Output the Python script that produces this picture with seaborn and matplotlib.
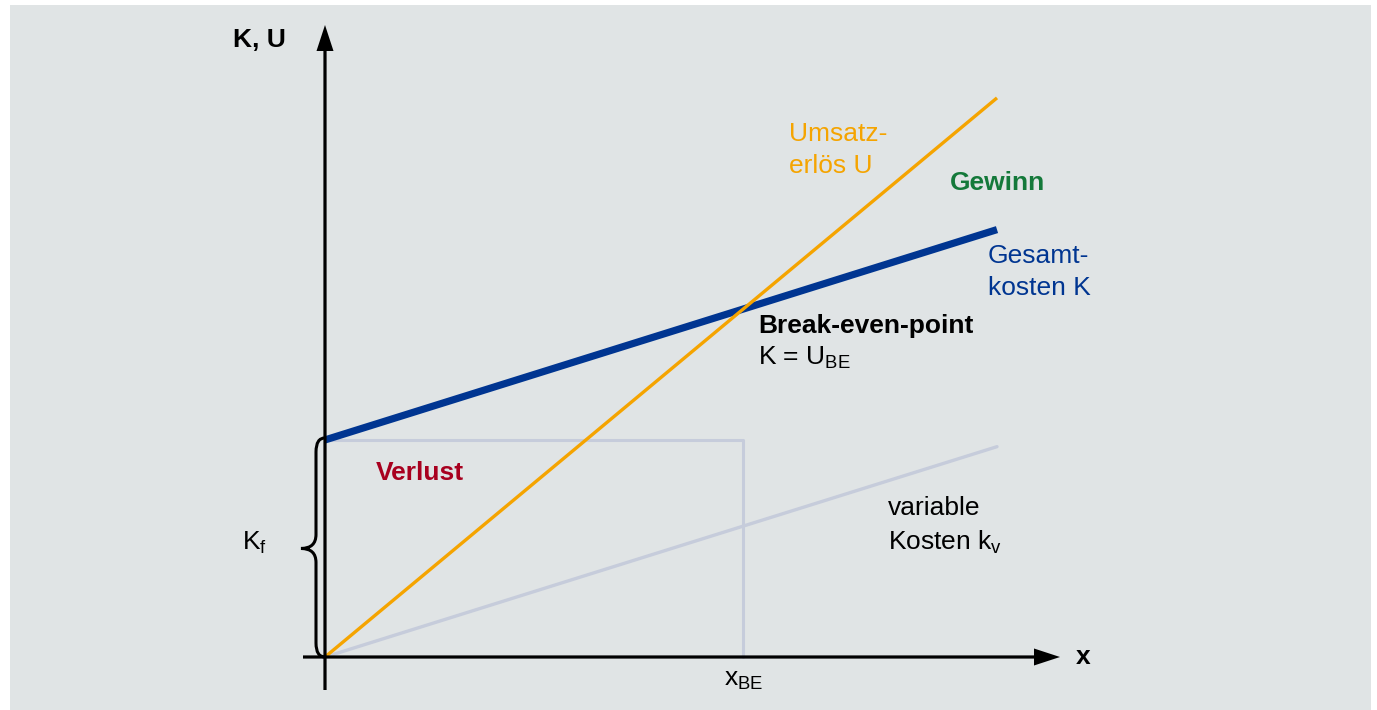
import numpy as np
import pandas as pd
import matplotlib
matplotlib.use("Agg")
import matplotlib.pyplot as plt
from matplotlib.path import Path
from matplotlib.patches import PathPatch, Rectangle
import seaborn as sns

# Break-even model (arbitrary units)
x_range = [0.0, 10.0]          # output quantity x
fixed_costs = 3.23             # K_f
unit_var_cost = 0.313          # k_v per unit
unit_price = 0.832             # revenue per unit

revenue = [unit_price * x for x in x_range]                    # U
variable_costs = [unit_var_cost * x for x in x_range]          # k_v * x
total_costs = [fixed_costs + unit_var_cost * x for x in x_range]  # K

x_be = fixed_costs / (unit_price - unit_var_cost)
y_be = unit_price * x_be

sns.set_theme(style="white")
plt.rcParams["font.family"] = ["Liberation Sans", "DejaVu Sans"]
plt.rcParams["mathtext.fontset"] = "custom"
plt.rcParams["mathtext.rm"] = "Liberation Sans"
plt.rcParams["text.color"] = "black"

W, H, DPI = 1377, 710, 100
fig = plt.figure(figsize=(W / DPI, H / DPI), dpi=DPI, facecolor="white")

# grey panel behind the axes
fig.patches.append(Rectangle((10 / W, 0), 1361 / W, 705 / H, transform=fig.transFigure,
                             facecolor="#e0e4e5", edgecolor="none", zorder=-10))

ax = fig.add_axes([0, 0, 1, 1])
ax.set_facecolor("none")
ax.patch.set_alpha(0)
scale = 67.2  # pixels per unit
ox, oy = 325, 657
ax.set_xlim(-ox / scale, (W - ox) / scale)
ax.set_ylim(-(H - oy) / scale, oy / scale)

C_REV = "#f5a400"
C_TOT = "#003591"
C_VAR = "#c6ccdb"
C_GAIN = "#14793a"
C_LOSS = "#a8001f"

lines = pd.DataFrame({
    "x": x_range * 3,
    "y": variable_costs + total_costs + revenue,
    "kurve": ["kv"] * 2 + ["K"] * 2 + ["U"] * 2,
})

# guide lines to the break-even point
guides = pd.DataFrame({"x": [0, x_be, x_be], "y": [fixed_costs, fixed_costs, 0.0]})
sns.lineplot(data=guides, x="x", y="y", sort=False, color=C_VAR, lw=2.2, ax=ax,
             estimator=None)

sns.lineplot(data=lines[lines.kurve == "kv"], x="x", y="y", color=C_VAR, lw=2.4, ax=ax)
sns.lineplot(data=lines[lines.kurve == "K"], x="x", y="y", color=C_TOT, lw=5.2, ax=ax,
             solid_capstyle="butt")
sns.lineplot(data=lines[lines.kurve == "U"], x="x", y="y", color=C_REV, lw=2.4, ax=ax,
             solid_capstyle="butt")
ax.axis("off")

# axes with arrow heads
ax.arrow(0, -33 / scale, 0, (690 - 25) / scale, width=3.2 / scale, head_width=17 / scale,
         head_length=26 / scale, length_includes_head=True, color="black", lw=0, zorder=5)
ax.arrow(-22 / scale, 0, (1060 - 303) / scale, 0, width=3.2 / scale, head_width=17 / scale,
         head_length=26 / scale, length_includes_head=True, color="black", lw=0, zorder=5)

# curly brace for fixed costs
a, b, r = 9 / scale, 24 / scale, 14 / scale
ym = fixed_costs / 2
top = fixed_costs + 2 / scale
verts = [(0, top), (-a, top), (-a, top - r),
         (-a, ym + r),
         (-a, ym), (-b, ym),
         (-a, ym), (-a, ym - r),
         (-a, r),
         (-a, 0), (0, 0)]
codes = [Path.MOVETO, Path.CURVE3, Path.CURVE3,
         Path.LINETO,
         Path.CURVE3, Path.CURVE3,
         Path.CURVE3, Path.CURVE3,
         Path.LINETO,
         Path.CURVE3, Path.CURVE3]
ax.add_patch(PathPatch(Path(verts, codes), facecolor="none", edgecolor="black", lw=2.2, zorder=4))

def px(xp, yp):
    return (xp - ox) / scale, (oy - yp) / scale

fs = 19
ls = 1.42
ax.text(*px(286, 40), "K, U", fontsize=fs, fontweight="bold", ha="right", va="center")
ax.text(*px(1076, 657), "x", fontsize=fs, fontweight="bold", ha="left", va="center")
ax.text(*px(789, 150), "Umsatz-\nerlös U", fontsize=fs, color=C_REV, ha="left", va="center",
        linespacing=ls)
ax.text(*px(950, 183), "Gewinn", fontsize=fs, color=C_GAIN, fontweight="bold", ha="left", va="center")
ax.text(*px(988, 272), "Gesamt-\nkosten K", fontsize=fs, color=C_TOT, ha="left", va="center",
        linespacing=ls)
ax.text(*px(758, 326), "Break-even-point", fontsize=fs, fontweight="bold", ha="left", va="center")
ax.text(*px(758, 358), r"K = U$_{\mathrm{BE}}$", fontsize=fs, ha="left", va="center")
ax.text(*px(376, 473), "Verlust", fontsize=fs, color=C_LOSS, fontweight="bold", ha="left", va="center")
ax.text(*px(888, 526), "variable\nKosten k$_{\\mathrm{v}}$", fontsize=fs, ha="left", va="center",
        linespacing=ls)
ax.text(*px(242, 543), r"K$_{\mathrm{f}}$", fontsize=fs, ha="left", va="center")
ax.text(x_be, px(0, 680)[1], r"x$_{\mathrm{BE}}$", fontsize=fs, ha="center", va="center")

fig.savefig("out.png", dpi=DPI, facecolor="white")
